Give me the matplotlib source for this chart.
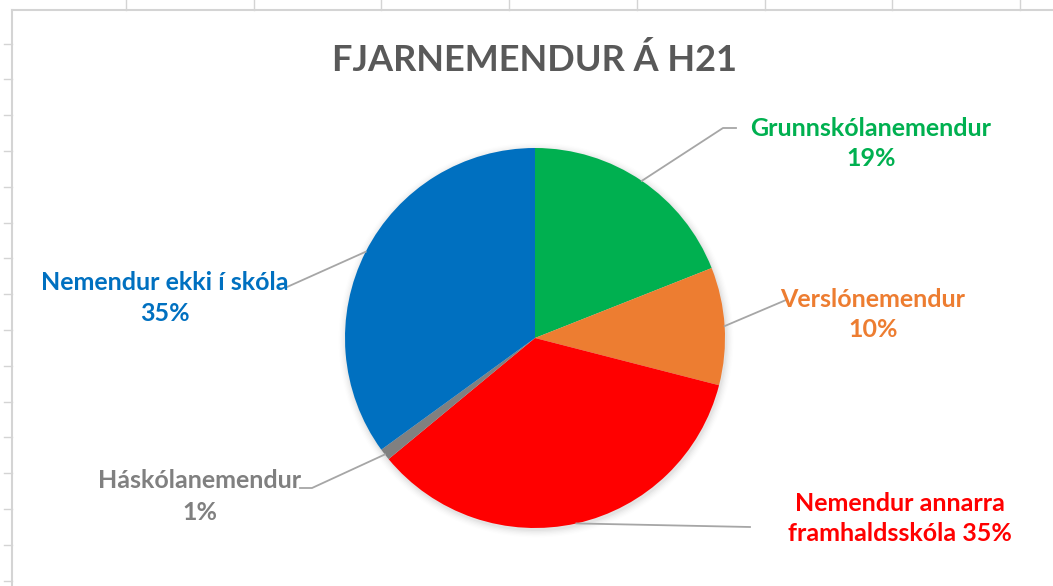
import numpy as np
import matplotlib
matplotlib.use("Agg")
import matplotlib.pyplot as plt
from matplotlib.lines import Line2D

title = "FJARNEMENDUR Á H21"
categories = ["Grunnskólanemendur", "Verslónemendur", "Nemendur annarra\nframhaldsskóla",
              "Háskólanemendur", "Nemendur ekki í skóla"]
values = [19, 10, 35, 1, 35]
colors = ["#00B050", "#ED7D31", "#FF0000", "#808080", "#0070C0"]
label_texts = ["Grunnskólanemendur\n19%", "Verslónemendur\n10%", "Nemendur annarra\nframhaldsskóla 35%",
               "Háskólanemendur\n1%", "Nemendur ekki í skóla\n35%"]

W, H = 1053, 586
fig = plt.figure(figsize=(W / 100, H / 100), dpi=100)
ax = fig.add_axes([0, 0, 1, 1])

def Y(y):
    return H - y

cx, cy, R = 535, 338, 190

# soft shadow
for i, a in enumerate(np.linspace(0.05, 0.012, 6)):
    ax.add_patch(plt.Circle((cx + 1, Y(cy) - 2), R + 1 + i * 1.3, color="black", alpha=a * 0.6, lw=0, zorder=1))

wedges, _ = ax.pie(values, colors=colors, startangle=90, counterclock=False,
                   center=(cx, Y(cy)), radius=R, frame=True,
                   wedgeprops=dict(linewidth=0, zorder=2))
ax.set_xlim(0, W)
ax.set_ylim(0, H)
ax.set_aspect("equal")
ax.axis("off")

# spreadsheet grid outside chart area
grid_c = "#D4D4D4"
ax.add_line(Line2D([12, W], [Y(10), Y(10)], color=grid_c, lw=1.5))
ax.add_line(Line2D([12, 12], [Y(10), 0], color=grid_c, lw=1.5))
for x in np.arange(126, W, 127.7):
    ax.add_line(Line2D([x, x], [Y(0), Y(10)], color=grid_c, lw=1))
for y in np.arange(43.5, H, 35.8):
    ax.add_line(Line2D([4, 12], [Y(y), Y(y)], color=grid_c, lw=1))

ax.text(cx, Y(71), title, ha="center", va="baseline", fontsize=26, fontweight="bold",
        color="#595959", family="Lato")

# label positions: x center and baselines of the two lines (pixel coords)
label_pos = [(871, 136, 166), (873, 307, 337), (900, 511, 541), (200, 488, 520), (165, 290, 321)]
elbows = [[(723, 128), (736, 128)],
          [(786, 300)],
          [(750, 527)],
          [(312, 488), (300, 488)],
          [(287, 287)]]
cum = np.cumsum([0] + values)
tot = sum(values)
for i, w in enumerate(wedges):
    mid = (cum[i] + values[i] / 2) / tot * 360
    th = np.deg2rad(mid)
    sx = cx + R * np.sin(th)
    sy = cy - R * np.cos(th)
    pts = [(sx, sy)] + elbows[i]
    ax.add_line(Line2D([p[0] for p in pts], [Y(p[1]) for p in pts], color="#A6A6A6", lw=1.3, zorder=3))
    lx, b1, b2 = label_pos[i]
    for line, b in zip(label_texts[i].split("\n"), (b1, b2)):
        ax.text(lx, Y(b), line, ha="center", va="baseline", fontsize=18,
                fontweight="bold", color=colors[i], family="Lato")

fig.savefig("out.png", dpi=100, facecolor="white")
